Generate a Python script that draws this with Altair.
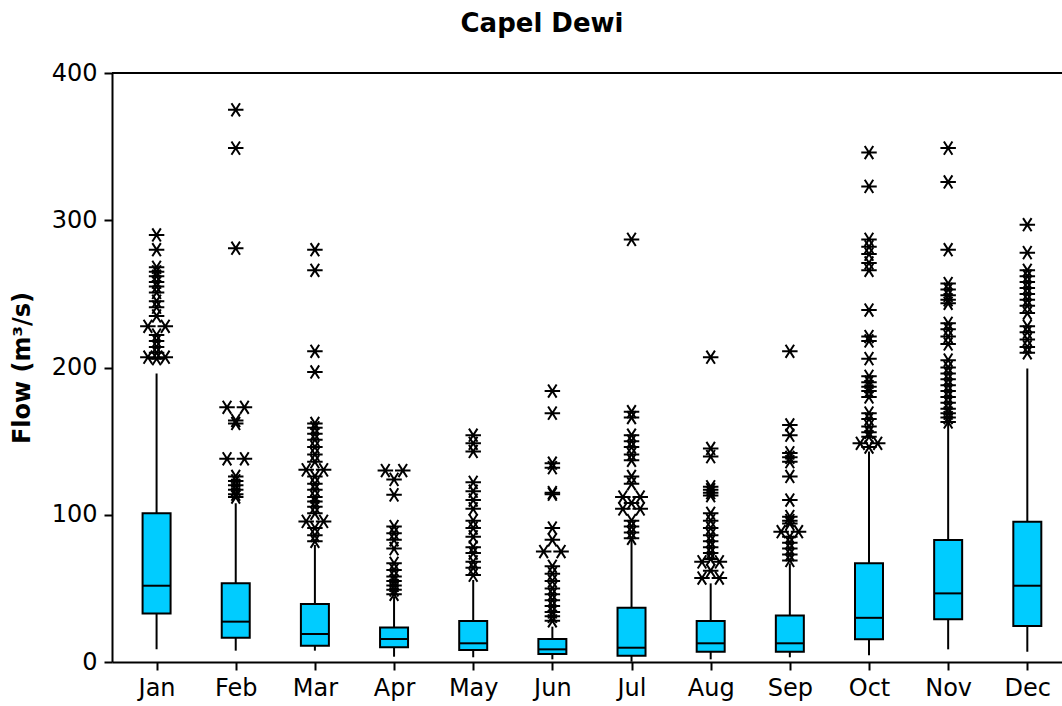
import altair as alt
import pandas as pd

months = ["Jan", "Feb", "Mar", "Apr", "May", "Jun", "Jul", "Aug", "Sep", "Oct", "Nov", "Dec"]

whisker_low = [8.6, 7.7, 7.7, 3.6, 3.2, 1.8, 0.2, 1.8, 3.2, 4.5, 8.6, 7.0]
q1 = [33.0, 16.5, 11.1, 10.0, 8.1, 5.4, 4.3, 7.0, 7.0, 15.4, 29.0, 24.4]
median = [51.8, 27.4, 19.0, 15.6, 12.7, 8.6, 9.7, 12.7, 12.7, 30.0, 46.6, 51.8]
q3 = [101.0, 53.4, 39.4, 23.5, 27.8, 15.6, 36.9, 27.8, 31.5, 67.0, 82.8, 95.3]
whisker_high = [196.0, 107.8, 79.5, 44.4, 55.7, 24.0, 82.8, 53.4, 67.0, 143.0, 162.0, 199.4]

# outliers (single values) per month
jan_out = [290, 280, 268, 265, 262, 258, 255, 251, 245, 241, 235, 222, 218, 214, 210, 206]
feb_out = [375, 349, 281, 164, 162, 126, 123, 120, 117, 114, 112]
mar_out = [280, 266, 211, 197, 162, 159, 155, 151, 146, 141, 136, 126, 121, 117, 112,
           109, 105.5, 101, 91, 86, 82]
apr_out = [124, 113.5, 92, 87.5, 83, 77, 67, 62.5, 58, 55, 52, 49, 46]
may_out = [154, 148.5, 143, 122, 116, 110, 104, 96, 91, 85, 78, 74, 68, 64, 59]
jun_out = [184, 169, 135, 132, 115, 114, 91, 83, 65, 60, 55, 50, 46, 42, 38, 34, 31, 28]
jul_out = [287, 170, 166, 154, 150, 146, 141, 137, 126, 121, 108, 96, 92, 88, 84]
aug_out = [207, 145, 139.5, 119, 117, 115, 113, 101, 96, 91, 86, 82, 78, 74, 70, 62]
sep_out = [211, 161, 154, 142, 139, 136, 126, 110, 98.7, 96, 94, 85, 81, 77, 73, 69]
oct_out = [346, 323, 287, 282, 277, 271, 266, 239, 221, 218, 206, 194, 190, 187, 184,
           180, 169, 165, 160, 156, 153, 146]
nov_out = [349, 326, 280, 257, 253, 249, 246, 243.6, 230, 226, 221, 216, 205, 200, 196,
           192, 188, 184, 180, 176, 172, 169, 166, 163]
dec_out = [297, 278, 266, 262, 258, 254, 250, 246, 242, 237, 228, 224, 219, 214, 210]

# tied outliers, drawn side by side
jan_ties = [228, 207]
feb_ties = [173, 138]
mar_ties = [130.5, 95.5]
apr_ties = [130]
may_ties = []
jun_ties = [75]
jul_ties = [112, 104]
aug_ties = [68, 57]
sep_ties = [88.5]
oct_ties = [148.5]
nov_ties = []
dec_ties = []

singles = [jan_out, feb_out, mar_out, apr_out, may_out, jun_out,
           jul_out, aug_out, sep_out, oct_out, nov_out, dec_out]
ties = [jan_ties, feb_ties, mar_ties, apr_ties, may_ties, jun_ties,
        jul_ties, aug_ties, sep_ties, oct_ties, nov_ties, dec_ties]

box_df = pd.DataFrame({
    "m": list(range(1, 13)),
    "month": months,
    "low": whisker_low,
    "q1": q1,
    "median": median,
    "q3": q3,
    "high": whisker_high,
})

rows = []
for i in range(12):
    for v in singles[i]:
        rows.append({"m": i + 1, "value": v, "side": 0})
    for v in ties[i]:
        rows.append({"m": i + 1, "value": v, "side": -1})
        rows.append({"m": i + 1, "value": v, "side": 1})
out_df = pd.DataFrame(rows)

FONT = "DejaVu Sans"
W, H = 950, 589

xscale = alt.Scale(domain=[0.5, 12.375], nice=False, zero=False)
yscale = alt.Scale(domain=[0, 400], nice=False, zero=True)

label_expr = "['Jan','Feb','Mar','Apr','May','Jun','Jul','Aug','Sep','Oct','Nov','Dec'][datum.value - 1]"

x_axis = alt.Axis(values=list(range(1, 13)), labelExpr=label_expr, title=None,
                  tickSize=8, labelPadding=6, labelFontSize=24, labelFont=FONT,
                  labelColor="black", grid=False)
y_axis = alt.Axis(values=[0, 100, 200, 300, 400], title="Flow (m³/s)", titleFont=FONT,
                  titleFontSize=24, titleFontWeight="bold", titleColor="black",
                  titleX=-90, titleBaseline="middle", titleAngle=270,
                  tickSize=8, labelPadding=7, labelFontSize=24, labelFont=FONT,
                  labelColor="black", grid=False)

x_enc = alt.X("m:Q", scale=xscale, axis=x_axis)

whiskers = alt.Chart(box_df).mark_rule(color="black", strokeWidth=2).encode(
    x=x_enc,
    y=alt.Y("low:Q", scale=yscale, axis=y_axis),
    y2="high:Q",
)

boxes = alt.Chart(box_df).mark_bar(size=28, fill="#00CCFF", stroke="black",
                                   strokeWidth=2).encode(
    x=x_enc,
    y=alt.Y("q1:Q", scale=yscale, axis=y_axis),
    y2="q3:Q",
)

medians = alt.Chart(box_df).mark_tick(orient="horizontal", size=28, thickness=2,
                                      color="black", opacity=1).encode(
    x=x_enc,
    y=alt.Y("median:Q", scale=yscale, axis=y_axis),
)

star = "M-1,0L1,0M-0.55,-0.85L0.55,0.85M-0.55,0.85L0.55,-0.85"
points = alt.Chart(out_df).transform_calculate(
    xpos="datum.m + datum.side * 0.11"
).mark_point(shape=star, size=240, filled=False, stroke="black", strokeWidth=2,
             opacity=1).encode(
    x=alt.X("xpos:Q", scale=xscale, axis=x_axis),
    y=alt.Y("value:Q", scale=yscale, axis=y_axis),
)

top_line = alt.Chart(pd.DataFrame({"v": [400]})).mark_rule(
    color="black", strokeWidth=2).encode(
    y=alt.Y("v:Q", scale=yscale, axis=y_axis),
    x=alt.value(0),
    x2=alt.value(W),
)

chart = alt.layer(whiskers, boxes, medians, points, top_line).properties(
    width=W,
    height=H,
    title=alt.TitleParams("Capel Dewi", font=FONT, fontSize=26, fontWeight="bold",
                          color="black", anchor="middle", dx=-45, offset=3,
                          baseline="alphabetic"),
    autosize=alt.AutoSizeParams(type="none"),
    padding={"left": 112, "top": 73, "right": 0, "bottom": 44},
).configure_view(stroke=None).configure_axis(
    domainColor="black", domainWidth=2, tickColor="black", tickWidth=2,
)

chart.save("out.html", embed_options={"renderer": "svg", "actions": False})
